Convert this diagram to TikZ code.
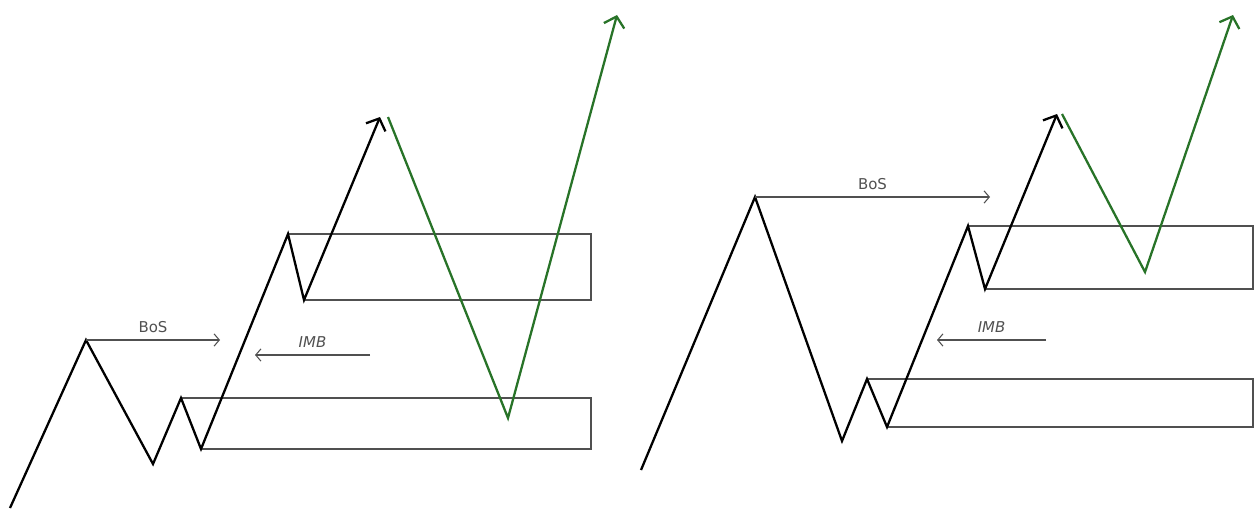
\documentclass[tikz,border=0pt]{standalone}
\usepackage{fontspec}
\setmainfont{DejaVu Sans}
\usetikzlibrary{arrows.meta}
\definecolor{verde}{RGB}{40,115,40}
\definecolor{cinza}{RGB}{80,80,80}

\begin{document}
\begin{tikzpicture}[x=0.02cm, y=-0.02cm,
    preco/.style={line width=1.3pt, line join=miter},
    alta/.style={preco, color=verde},
    ponta/.style={-{Straight Barb[length=5.5pt,width=12pt]}},
    caixa/.style={draw=cinza, line width=0.9pt},
    seta/.style={cinza, line width=0.6pt, -{Straight Barb[length=3pt,width=7pt]}},
    rotulo/.style={font=\fontsize{8.5}{10}\selectfont, text=cinza, inner sep=1pt}]
    \useasboundingbox (0,0) rectangle (1256,510);

    % Posicionar os pontos (lado esquerdo)
    \coordinate (a0) at (10,508);
    \coordinate (a1) at (86,340);
    \coordinate (a2) at (153,464);
    \coordinate (a3) at (181,398);
    \coordinate (a4) at (201,449);
    \coordinate (a5) at (288,234);
    \coordinate (a6) at (304,300);
    \coordinate (a7) at (380,117);
    \coordinate (g1) at (388,117);
    \coordinate (g2) at (508,418);
    \coordinate (g3) at (617,15);

    % Caixas (lado esquerdo)
    \draw[caixa] (a3) -- (591,398) -- (591,449) -- (a4);
    \draw[caixa] (a5) -- (591,234) -- (591,300) -- (a6);

    % Movimento do preco
    \draw[preco, ponta] (a0) -- (a1) -- (a2) -- (a3) -- (a4) -- (a5) -- (a6) -- (a7);
    \draw[alta, ponta] (g1) -- (g2) -- (g3);

    % BoS e IMB
    \coordinate (bosA) at (220,340);
    \coordinate (imbA) at (370,355);
    \coordinate (imbB) at (255,355);
    \draw[seta] (a1) -- (bosA) node[midway, above=3pt, rotulo] {BoS};
    \draw[seta] (imbA) -- (imbB) node[midway, above=3pt, rotulo] {\itshape IMB};

    % Posicionar os pontos (lado direito)
    \coordinate (b0) at (641,470);
    \coordinate (b1) at (755,197);
    \coordinate (b2) at (842,441);
    \coordinate (b3) at (867,379);
    \coordinate (b4) at (887,427);
    \coordinate (b5) at (968,226);
    \coordinate (b6) at (985,289);
    \coordinate (b7) at (1057,114);
    \coordinate (h1) at (1062,114);
    \coordinate (h2) at (1145,272);
    \coordinate (h3) at (1233,15);

    % Caixas (lado direito)
    \draw[caixa] (b3) -- (1253,379) -- (1253,427) -- (b4);
    \draw[caixa] (b5) -- (1253,226) -- (1253,289) -- (b6);

    % Movimento do preco
    \draw[preco, ponta] (b0) -- (b1) -- (b2) -- (b3) -- (b4) -- (b5) -- (b6) -- (b7);
    \draw[alta, ponta] (h1) -- (h2) -- (h3);

    % BoS e IMB
    \coordinate (bosB) at (990,197);
    \coordinate (imbC) at (1046,340);
    \coordinate (imbD) at (937,340);
    \draw[seta] (b1) -- (bosB) node[midway, above=3pt, rotulo] {BoS};
    \draw[seta] (imbC) -- (imbD) node[midway, above=3pt, rotulo] {\itshape IMB};
\end{tikzpicture}
\end{document}
